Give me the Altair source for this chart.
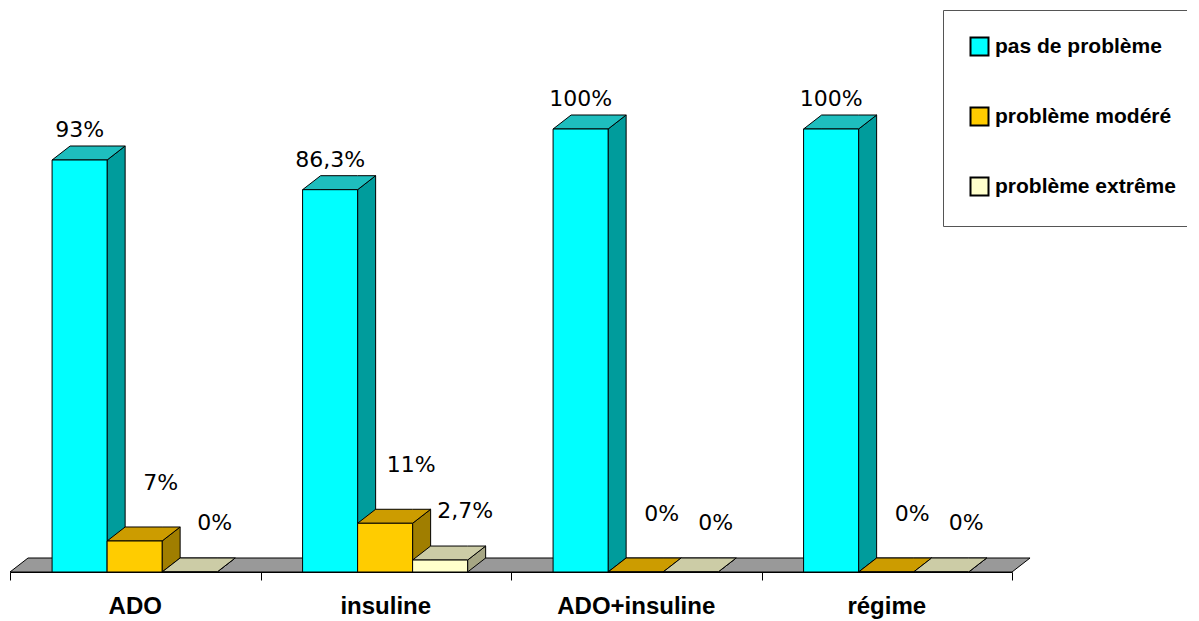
import altair as alt
import pandas as pd

# ---- data ----
categories = ["ADO", "insuline", "ADO+insuline", "régime"]
series = ["pas de problème", "problème modéré", "problème extrême"]
pas_de_probleme = [93, 86.3, 100, 100]
probleme_modere = [7, 11, 0, 0]
probleme_extreme = [0, 2.7, 0, 0]

# ---- style ----
front_colors = ["#00FFFF", "#FFCC00", "#FFFFCC"]
top_colors = ["#1EBEBE", "#CC9C00", "#CCCCA6"]
side_colors = ["#009C9C", "#A07E00", "#A6A684"]
label_dx = [0, 26, 25]
label_dy = [-16, -44, -35]

BAR_START = 0.168   # offset of first bar within a category (x units)
BAR_W = 0.2196      # bar width (x units)
DX = 0.072          # 3-D depth, x units
DY = 3.16           # 3-D depth, y units

W, H = 1002, 443

values = [pas_de_probleme, probleme_modere, probleme_extreme]


def fmt(v):
    return f"{v:g}".replace(".", ",") + "%"


front_rows, poly_rows, label_rows = [], [], []
for s, (name, vals) in enumerate(zip(series, values)):
    for c, (cat, v) in enumerate(zip(categories, vals)):
        L = c + BAR_START + s * BAR_W
        R = L + BAR_W
        gid = f"{s}-{c}"
        front_rows.append(dict(series=name, s=s, x=L, x2=R, y=0, y2=v))
        for x, lo, hi in [(R, 0, v), (R + DX, DY, v + DY)]:
            poly_rows.append(dict(face="side", s=s, gid=gid, x=x, lo=lo, hi=hi))
        for x, lo, hi in [(L, v, v), (L + DX, v, v + DY), (R, v, v + DY), (R + DX, v + DY, v + DY)]:
            poly_rows.append(dict(face="top", s=s, gid=gid, x=x, lo=lo, hi=hi))
        label_rows.append(dict(s=s, x=(L + R) / 2, y=v + DY, text=fmt(v)))

n = len(categories)
floor_rows = [dict(x=0, lo=0, hi=0), dict(x=DX, lo=0, hi=DY),
              dict(x=n, lo=0, hi=DY), dict(x=n + DX, lo=DY, hi=DY)]

front_df = pd.DataFrame(front_rows)
poly_df = pd.DataFrame(poly_rows)
label_df = pd.DataFrame(label_rows)
floor_df = pd.DataFrame(floor_rows)
cat_df = pd.DataFrame(dict(cat=categories, x=[i + 0.5 for i in range(n)]))

xscale = alt.Scale(domain=[0, n], nice=False, zero=False)
yscale = alt.Scale(domain=[0, 100], nice=False, zero=False)

xaxis = alt.Axis(values=list(range(n + 1)), labels=False, ticks=True, tickSize=8,
                 tickColor="black", domainColor="black", grid=False, title=None)

floor = alt.Chart(floor_df).mark_area(orient="vertical", fill="#999999", stroke="black",
                                       strokeWidth=1).encode(
    x=alt.X("x:Q", scale=xscale, axis=xaxis),
    y=alt.Y("lo:Q", scale=yscale, axis=None),
    y2="hi:Q",
)

layers = [floor]
for s, name in enumerate(series):
    side = alt.Chart(poly_df).transform_filter(
        (alt.datum.face == "side") & (alt.datum.s == s)
    ).mark_area(orient="vertical", fill=side_colors[s], stroke="black", strokeWidth=1).encode(
        x=alt.X("x:Q", scale=xscale),
        y=alt.Y("lo:Q", scale=yscale),
        y2="hi:Q",
        detail="gid:N",
    )
    top = alt.Chart(poly_df).transform_filter(
        (alt.datum.face == "top") & (alt.datum.s == s)
    ).mark_area(orient="vertical", fill=top_colors[s], stroke="black", strokeWidth=1).encode(
        x=alt.X("x:Q", scale=xscale),
        y=alt.Y("lo:Q", scale=yscale),
        y2="hi:Q",
        detail="gid:N",
    )
    front = alt.Chart(front_df).transform_filter(alt.datum.s == s).mark_rect(
        stroke="black", strokeWidth=1
    ).encode(
        x=alt.X("x:Q", scale=xscale),
        x2="x2:Q",
        y=alt.Y("y:Q", scale=yscale),
        y2="y2:Q",
        color=alt.Color(
            "series:N",
            scale=alt.Scale(domain=series, range=front_colors),
            legend=alt.Legend(
                orient="none", legendX=933, legendY=-119, title=None,
                symbolType="square", symbolSize=324, symbolStrokeColor="black",
                symbolStrokeWidth=2, labelFont="Liberation Sans", labelFontWeight="bold",
                labelFontSize=21, labelColor="black", rowPadding=43, padding=26,
                strokeColor="#555555", fillColor="white", labelOffset=5, labelLimit=400,
            ),
        ),
    )
    layers += [side, top, front]

for s in range(len(series)):
    txt = alt.Chart(label_df).transform_filter(alt.datum.s == s).mark_text(
        font="DejaVu Sans", fontSize=22, color="black", baseline="middle",
        align="center", dx=label_dx[s], dy=label_dy[s]
    ).encode(
        x=alt.X("x:Q", scale=xscale),
        y=alt.Y("y:Q", scale=yscale),
        text="text:N",
    )
    layers.append(txt)

cat_labels = alt.Chart(cat_df).mark_text(
    font="Liberation Sans", fontWeight="bold", fontSize=24, color="black",
    baseline="middle", align="center"
).encode(
    x=alt.X("x:Q", scale=xscale),
    y=alt.value(H + 35),
    text="cat:N",
)
layers.append(cat_labels)

chart = alt.layer(*layers).properties(
    width=W, height=H,
    padding={"left": 2, "top": 121, "right": 175, "bottom": 49},
    autosize=alt.AutoSizeParams(type="none"),
).configure(background="white").configure_view(stroke="transparent", strokeWidth=0)

chart.save("out.html", embed_options={"renderer": "svg", "actions": False})
